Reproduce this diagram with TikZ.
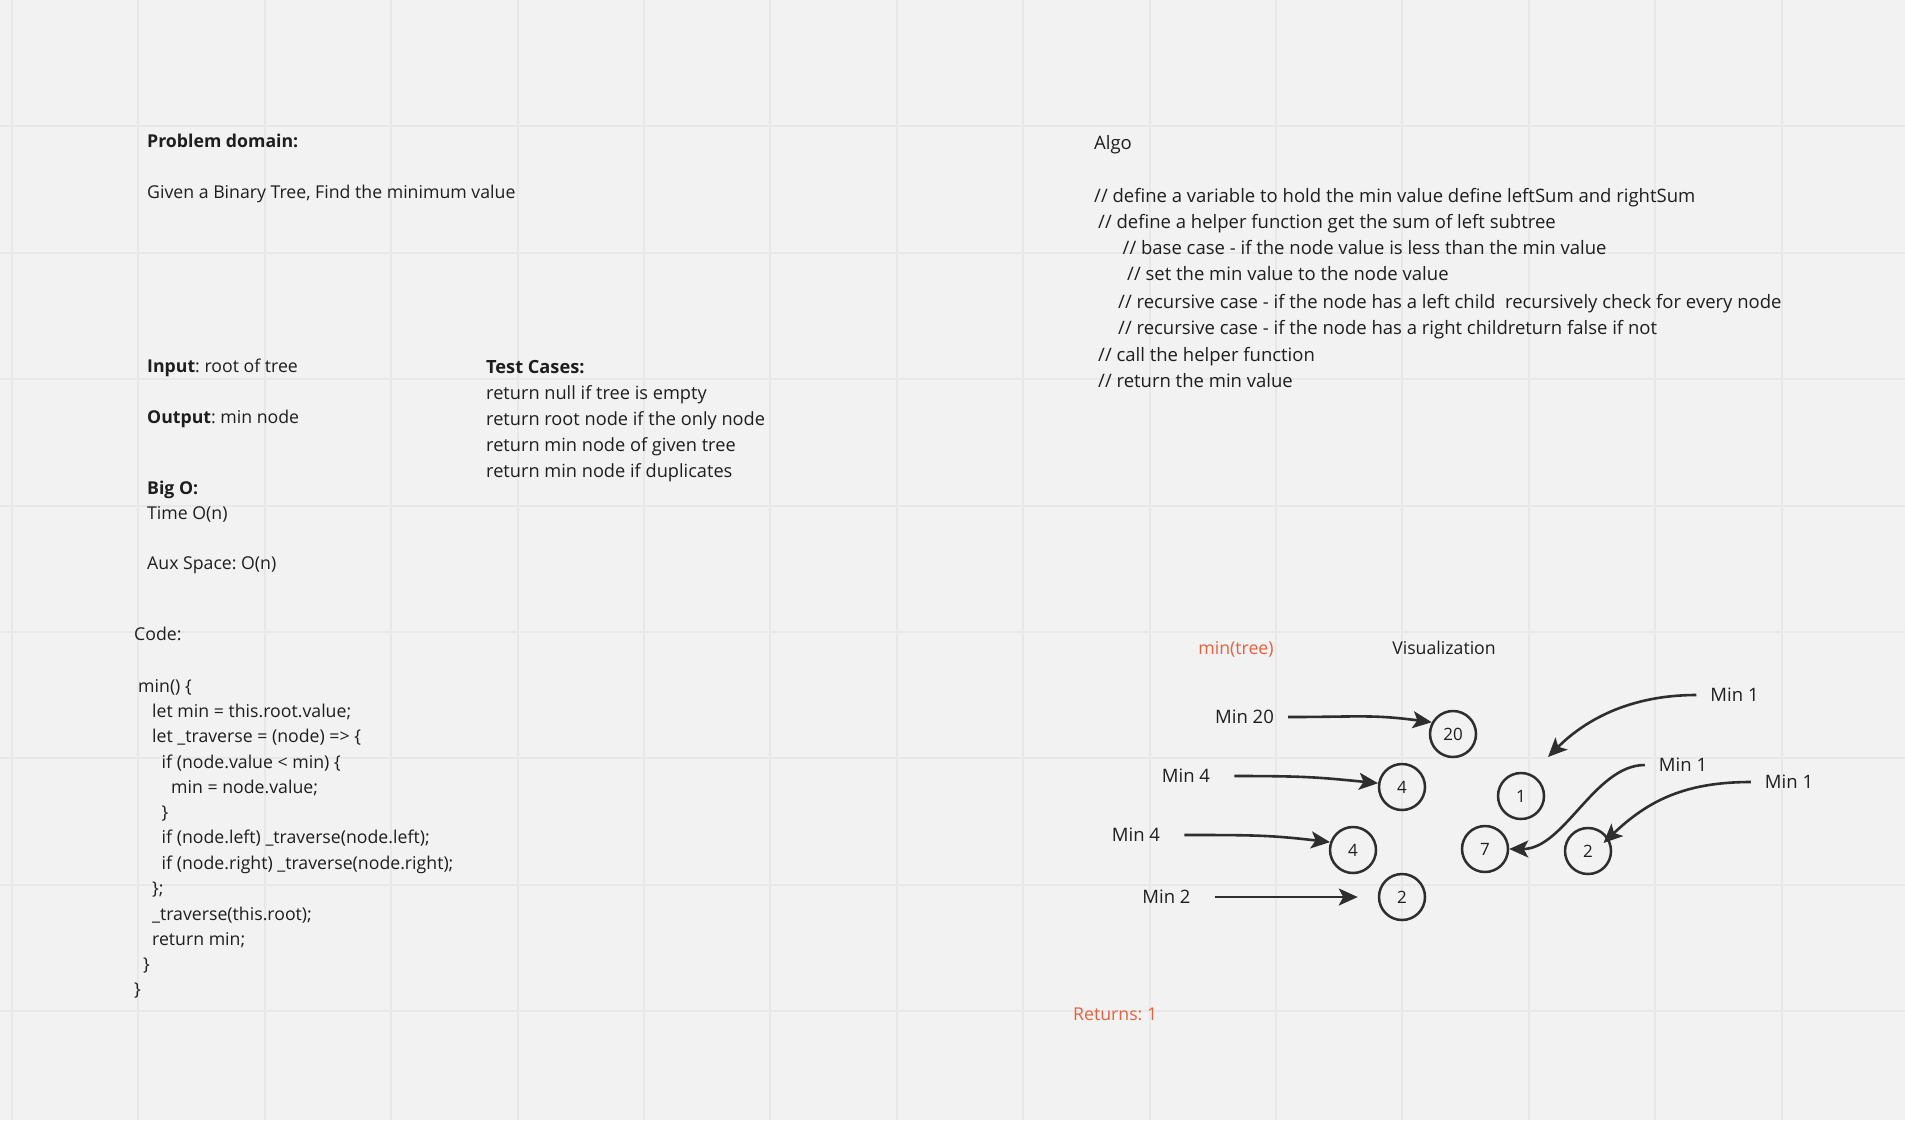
\documentclass[tikz,border=0pt]{standalone}
\usepackage{fontspec}
\setmainfont{Open Sans}
\usepackage{xcolor}
\usepackage{tikz}
\usetikzlibrary{arrows.meta,positioning}
\frenchspacing

\definecolor{paper}{HTML}{F2F2F2}
\definecolor{gridcol}{HTML}{E8E8E8}
\definecolor{inkcol}{HTML}{1E1E1E}
\definecolor{linecol}{HTML}{2E2E2E}
\definecolor{hotcol}{HTML}{E8613F}

\begin{document}
\begin{tikzpicture}[x=1pt, y=-1pt, arrow/.style = {line width=2.6pt, draw=linecol, -{Stealth[length=19pt,width=17pt,inset=4.5pt]}}]
	\tikzset{txt/.style={anchor=west, inner sep=0pt, text height=15pt, text depth=1.4pt, text=inkcol, font=\fontsize{17.7}{21}\selectfont}}
	\tikzset{hot/.style={txt, text=hotcol}}
	\tikzset{lbl/.style={txt, anchor=center, inner xsep=14pt, font=\fontsize{18.5}{22}\selectfont}}
	\tikzset{val/.style={circle, draw=linecol, line width=2.5pt, minimum size=46pt, inner sep=0pt, text=inkcol, font=\fontsize{17}{20}\selectfont}}
	\tikzset{grid/.style={draw=gridcol, line width=2pt}}

	% Board
	\fill[paper] (0,0) rectangle (1905,1120);
	\useasboundingbox (0,0) rectangle (1905,1120);
	\foreach \gx in {0,...,14} \draw[grid] ({12+126.4*\gx},0) -- ++(0,1120);
	\foreach \gy in {1,...,8} \draw[grid] (0,{126.4*\gy}) -- ++(1905,0);

	% Problem
	\node[txt] (pdom) at (147,141) {\textbf{Problem domain:}};
	\node[txt] (given) at (147,192) {Given a Binary Tree, Find the minimum value};

	\node[txt] (input) at (147,366) {\textbf{Input}: root of tree};
	\node[txt] (output) at (147,417) {\textbf{Output}: min node};

	\node[txt] (bigo) at (147,488) {\textbf{Big O:}};
	\node[txt] (time) at (147,513) {Time O(n)};
	\node[txt] (aux) at (147,563) {Aux Space: O(n)};

	% Test cases
	\node[txt, font=\fontsize{18.2}{21}\selectfont] (tests) at (486,367) {\textbf{Test Cases:}};
	\node[txt, font=\fontsize{18.2}{21}\selectfont] (test1) at (486,393) {return null if tree is empty};
	\node[txt, font=\fontsize{18.2}{21}\selectfont] (test2) at (486,419) {return root node if the only node};
	\node[txt, font=\fontsize{18.2}{21}\selectfont] (test3) at (486,445) {return min node of given tree};
	\node[txt, font=\fontsize{18.2}{21}\selectfont] (test4) at (486,471) {return min node if duplicates};

	% Code
	\node[txt] (code) at (134,634) {Code:};
	\node[txt] (cl1) at (138,686) {min() \{};
	\node[txt] (cl2) at (152,711) {let min = this.root.value;};
	\node[txt] (cl3) at (152,736) {let \_traverse = (node) => \{};
	\node[txt] (cl4) at (161.5,762) {if (node.value < min) \{};
	\node[txt] (cl5) at (171,787) {min = node.value;};
	\node[txt] (cl6) at (161.5,812) {\}};
	\node[txt] (cl7) at (161.5,837) {if (node.left) \_traverse(node.left);};
	\node[txt] (cl8) at (161.5,863) {if (node.right) \_traverse(node.right);};
	\node[txt] (cl9) at (152,888) {\};};
	\node[txt] (cl10) at (152,914) {\_traverse(this.root);};
	\node[txt] (cl11) at (152,939) {return min;};
	\node[txt] (cl12) at (143,964) {\}};
	\node[txt] (cl13) at (134,989) {\}};

	% Algo
	\tikzset{alg/.style={txt, font=\fontsize{18.5}{22}\selectfont}}
	\node[alg] (algo) at (1094,143) {Algo};
	\node[alg] (al1) at (1094,196) {// define a variable to hold the min value define leftSum and rightSum};
	\node[alg] (al2) at (1098,222) {// define a helper function get the sum of left subtree};
	\node[alg] (al3) at (1122.5,248) {// base case - if the node value is less than the min value};
	\node[alg] (al4) at (1127,274) {// set the min value to the node value};
	\node[alg] (al5) at (1118,301.5) {// recursive case - if the node has a left child\ \ recursively check for every node};
	\node[alg] (al6) at (1118,328) {// recursive case - if the node has a right childreturn false if not};
	\node[alg] (al7) at (1098,355) {// call the helper function};
	\node[alg] (al8) at (1098,381) {// return the min value};

	% Visualization
	\node[hot, anchor=center] (call) at (1236,648) {min(tree)};
	\node[txt, anchor=center] (viz) at (1444,648) {Visualization};

	\node[val] (c20) at (1453,734) {20};
	\node[val] (c4a) at (1402,787) {4};
	\node[val] (c1) at (1521,796) {1};
	\node[val] (c4b) at (1353,850) {4};
	\node[val] (c7) at (1485,849) {7};
	\node[val] (c2r) at (1588,851) {2};
	\node[val] (c2b) at (1402,897) {2};

	\node[lbl] (m20) at (1244.5,717) {Min 20};
	\node[lbl, inner xsep=24pt] (m4a) at (1186,776) {Min 4};
	\node[lbl, inner xsep=24pt] (m4b) at (1136,835) {Min 4};
	\node[lbl, inner xsep=24pt] (m2) at (1166.5,897) {Min 2};
	\node[lbl] (m1a) at (1734.5,695) {Min 1};
	\node[lbl] (m1b) at (1683,765) {Min 1};
	\node[lbl] (m1c) at (1789,782) {Min 1};
	\coordinate (e1) at (1548,757);

	\draw[arrow] (m20.east) .. controls +(70,0) and +(-60,-8) .. (c20.151);
	\draw[arrow] (m4a.east) .. controls +(70,0) and +(-60,-6) .. (c4a.171);
	\draw[arrow] (m4b.east) .. controls +(70,0) and +(-60,-7) .. (c4b.161);
	\draw[arrow, shorten >=20pt] (m2.east) -- (c2b);
	\draw[arrow] (m1a.west) .. controls +(-65,0) and +(38,-38) .. (e1);
	\draw[arrow] (m1b.west) .. controls +(-50,0) and +(55,0) .. (c7.east);
	\draw[arrow, shorten >=-7pt] (m1c.west) .. controls +(-65,0) and +(40,-38) .. (c2r.32);

	\node[hot] (ret) at (1073,1014) {Returns: 1};

\end{tikzpicture}
\end{document}
